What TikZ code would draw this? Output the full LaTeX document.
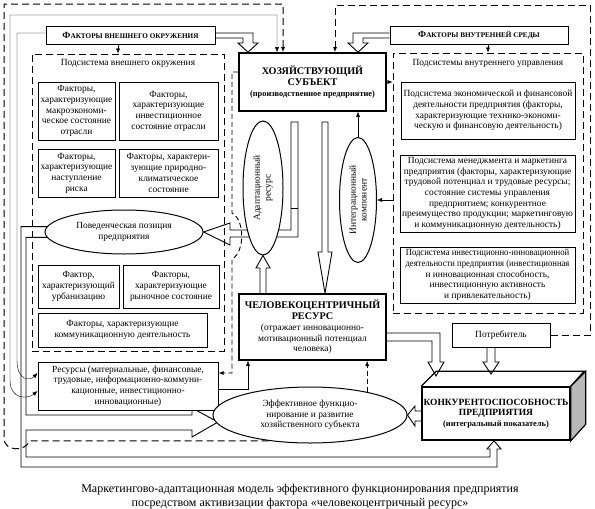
\documentclass[tikz,border=0pt]{standalone}
\usepackage{fontspec}
\setmainfont{Liberation Serif}
\newfontfamily\narrowserif[FakeStretch=0.92]{Liberation Serif}
\usetikzlibrary{arrows.meta,shapes.geometric}

\pgfdeclarelayer{bg}
\pgfsetlayers{bg,main}

\newcommand\hdfont{\fontsize{10.2}{12}\selectfont\bfseries}
\newcommand\kkfont{\fontsize{9.5}{11.5}\selectfont\bfseries}
\newcommand\smbold{\fontsize{8.4}{10}\selectfont\bfseries}

\tikzset{every picture/.style={line width=0.75pt}}
\tikzset{
  >={Latex[length=5pt,width=4pt]},
  txt/.style={font=\fontsize{9.4}{10.7}\selectfont},
  factbox/.style={draw,line width=1pt,fill=white,align=center,inner sep=1pt,txt},
  bigbox/.style={factbox,line width=1.6pt},
  oval/.style={draw,ellipse,line width=1pt,fill=white,align=center,inner sep=0pt,txt},
  dashframe/.style={line width=1pt,dash pattern={on 7pt off 4pt}},
  dashlink/.style={line width=0.9pt,dash pattern={on 5pt off 3pt}},
  hollow/.style={line width=0.9pt,fill=white},
}

\begin{document}
\begin{tikzpicture}[x=1pt,y=1pt,yscale=-1]
\useasboundingbox (0,0) rectangle (595,509);

% Factor groups at the top
\node[factbox,minimum width=169pt,minimum height=18pt] (outerf) at (130.5,35) {\bfseries Ф{\fontsize{7.2}{8}\selectfont АКТОРЫ ВНЕШНЕГО ОКРУЖЕНИЯ}};
\node[factbox,minimum width=178pt,minimum height=18pt] (innerf) at (479,35) {\bfseries Ф{\fontsize{7.2}{8}\selectfont АКТОРЫ ВНУТРЕННЕЙ СРЕДЫ}};
% Enterprise
\node[bigbox,minimum width=147pt,minimum height=58pt] (firm) at (312.5,82) {\hdfont ХОЗЯЙСТВУЮЩИЙ\\ \hdfont СУБЪЕКТ\\ \smbold (производственное предприятие)};

% Subsystem of the external environment
\node[draw,dashframe,minimum width=192pt,minimum height=297pt,inner sep=0pt] (extsys) at (128,202.5) {};
\node[txt] (exttitle) at (128,63) {Подсистема внешнего окружения};
\node[factbox,minimum width=77pt,minimum height=58pt] (macro) at (76.5,111) {Факторы,\\ характеризующие\\ макроэкономи-\\ ческое состояние\\ отрасли};
\node[factbox,minimum width=99pt,minimum height=58pt] (invest) at (168.5,111) {Факторы,\\ характеризующие\\ инвестиционное\\ состояние отрасли};
\node[factbox,minimum width=77pt,minimum height=48pt] (risk) at (76.5,173) {Факторы,\\ характеризующие\\ наступление\\ риска};
\node[factbox,minimum width=99pt,minimum height=48pt] (climate) at (168.5,173) {Факторы, характери-\\ зующие природно-\\ климатическое\\ состояние};
\node[oval,minimum width=158pt,minimum height=44pt] (behav) at (124,232) {Поведенческая позиция\\ предприятия};
\node[factbox,minimum width=81pt,minimum height=43pt] (urban) at (78.5,286.5) {Фактор,\\ характеризующий\\ урбанизацию};
\node[factbox,minimum width=96pt,minimum height=43pt] (market) at (171,286.5) {Факторы,\\ характеризующие\\ рыночное состояние};
\node[factbox,minimum width=169pt,minimum height=34pt] (commun) at (122.5,330) {Факторы, характеризующие\\ коммуникационную деятельность};
\node[factbox,minimum width=180pt,minimum height=48pt] (resources) at (128,386) {Ресурсы (материальные, финансовые,\\ трудовые, информационно-коммуни-\\ кационные, инвестиционно-\\ инновационные)};

% Subsystems of internal management
\node[draw,dashframe,minimum width=190pt,minimum height=260pt,inner sep=0pt] (intsys) at (488,183) {};
\node[txt] (inttitle) at (488,63) {Подсистемы внутреннего управления};
\node[factbox,minimum width=174pt,minimum height=57pt] (econ) at (488,110.5) {Подсистема экономической и финансовой\\ деятельности предприятия (факторы,\\ характеризующие технико-экономи-\\ ческую и финансовую деятельность)};
\node[factbox,minimum width=175pt,minimum height=77pt] (manage) at (487.5,193.5) {Подсистема менеджмента и маркетинга\\ предприятия (факторы, характеризующие\\ трудовой потенциал и трудовые ресурсы;\\ состояние системы управления\\ предприятием; конкурентное\\ преимущество продукции; маркетинговую\\ и коммуникационную деятельность)};
\node[factbox,minimum width=175pt,minimum height=56pt] (innov) at (487.5,275) {\narrowserif Подсистема инвестиционно-инновационной\\ \narrowserif деятельности предприятия (инвестиционная\\ и инновационная способность,\\ инвестиционную активность\\ и привлекательность)};

% Middle column
\node[oval,rotate=90,minimum width=134pt,minimum height=40pt] (adapt) at (263,188) {Адаптационный\\ ресурс};
\node[oval,rotate=90,minimum width=125pt,minimum height=37pt] (integr) at (358,200) {Интеграционный\\ компонент};
\node[bigbox,minimum width=147pt,minimum height=66pt] (humres) at (312.5,327) {\hdfont ЧЕЛОВЕКОЦЕНТРИЧНЫЙ\\ \hdfont РЕСУРС\\ (отражает инновационно-\\ мотивационный потенциал\\ человека)};
\node[oval,minimum width=194pt,minimum height=56pt] (effect) at (310,415) {Эффективное функцио-\\ нирование и развитие\\ хозяйственного субъекта};

% Consumer and competitiveness
\node[factbox,minimum width=98pt,minimum height=24pt] (consumer) at (501,335) {Потребитель};
\node[bigbox,minimum width=148pt,minimum height=53pt] (competit) at (496,413.5) {\kkfont КОНКУРЕНТОСПОСОБНОСТЬ\\ \kkfont ПРЕДПРИЯТИЯ\\ \smbold (интегральный показатель)};
\draw[line width=1.2pt] (competit.north west) -- ++(15,-15) -- ++(148,0) -- (competit.north east);
\draw[line width=1.2pt,fill=gray!55] (competit.north east) -- ++(15,-15) -- ++(0,53) -- (competit.south east) -- cycle;

% Caption
\node[font=\fontsize{12}{14}\selectfont,align=center] (caption) at (300,497) {Маркетингово-адаптационная модель эффективного функционирования предприятия\\ посредством активизации фактора «человекоцентричный ресурс»};

\begin{pgfonlayer}{bg}
% behaviour position to efficiency and competitiveness
\draw[hollow] (behav.176) -| (21,467) -- (497,467) -- (497,449) -- (501,449) -- (competit.south -| 494,0) -- (487,449) -- (490,449) -- (490,457) -- (26,457) -- (26,430) -- (192,430) -- (192,437) -- (218,422) -- (192,408) -- (192,415) -- (26,415) |- (behav.184);
% feedback loops
\draw[dashframe,->] (effect.212) -- ++(-239,0) .. controls +(-4,11) and +(0,14) .. (4,438) -- (4,4) -- (283,4) -- (firm.north -| 283,0);
\draw[dashframe,->] (consumer.east) -- (590,0 |- consumer.east) -- (590,5) -- (335,5) -- (firm.north -| 335,0);
\draw[<->] (firm.north -| 277,0) -- (277,15) -- (10,15) -- (10,380) .. controls (10,400) and (28,399) .. (resources.west |- 0,391);
\draw[->] (outerf.west |- 0,33) -- (17,33) -- (17,360) .. controls (17,381) and (30,381) .. (resources.west |- 0,373);
% factor groups into the enterprise
\draw[hollow] (outerf.east |- 0,33) -- (253,33) -- (253,43) -- (258,43) -- (firm.north -| 248,0) -- (238,43) -- (243,43) -- (243,38) -- (outerf.east |- 0,38);
\draw[hollow] (innerf.west |- 0,33) -- (353,33) -- (353,43) -- (348,43) -- (firm.north -| 358,0) -- (368,43) -- (363,43) -- (363,38) -- (innerf.west |- 0,38);
\draw[->] (outerf.south -| 118,0) -- (extsys.north -| 118,0);
\draw[->] (innerf.south -| 488,0) -- (intsys.north -| 488,0);
\draw[->] (firm.east) -- (intsys.west |- firm.east);
\draw[->] (intsys.west |- integr.south) -- (integr.south);
\draw[->] (integr.east) -- (firm.south -| integr.east);
% adaptation channel to behaviour position
\draw[hollow] (291,122) -- (298,122) -- (298,237) -- (230,237) -- (230,245) -- (behav.east) -- (230,223) -- (230,230) -- (291,230) -- cycle;
\draw[line width=0.9pt] (291,208) -- (298,208);
\draw[dashlink,->] (firm.west |- 0,72) -- (232,72) -- (232,213) .. controls (245,220) and (245,252) .. (232,259) -- (232,373) -- (resources.east |- 0,373);
% human resource links
\draw[hollow] (322,122) -- (328,122) -- (328,252) -- (332,252) -- (humres.north -| 325,0) -- (318,252) -- (322,252) -- cycle;
\draw[hollow] (humres.north -| 260,0) -- (260,268) -- (256,268) -- (adapt.west) -- (270,268) -- (266,268) -- (humres.north -| 266,0);
\draw[->] (resources.east |- 0,389) -- (248,389) -- (humres.south -| 248,0);
\draw[dashlink,->] (effect.22) -- (humres.south -| effect.22);
\draw[hollow] (humres.east |- 0,333) -- (440,333) -- (440,362) -- (444,362) -- (436,376) -- (428,362) -- (432,362) -- (432,341) -- (humres.east |- 0,341);
\draw[hollow] (consumer.south -| 487,0) -- (487,362) -- (483,362) -- (491,374) -- (499,362) -- (495,362) -- (consumer.south -| 495,0);
\draw[hollow] (competit.west |- 0,411) -- (415,411) -- (415,406) -- (effect.east) -- (415,426) -- (415,421) -- (competit.west |- 0,421);
\end{pgfonlayer}
\end{tikzpicture}
\end{document}
